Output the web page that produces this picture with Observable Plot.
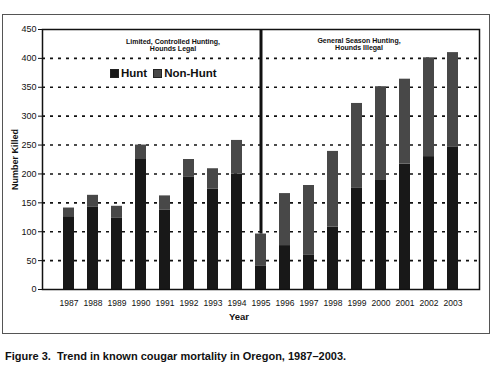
<!DOCTYPE html>
<html>
<head>
<meta charset="utf-8">
<script src="https://cdn.jsdelivr.net/npm/d3@7"></script>
<script src="https://cdn.jsdelivr.net/npm/@observablehq/plot@0.6"></script>
<style>
  body { margin: 0; background: white; }
  #wrap { position: relative; width: 500px; height: 374px; font-family: "Liberation Sans", Arial, sans-serif; }
  #frame { position: absolute; left: 2px; top: 14px; width: 488px; height: 320px; border: 1px solid #555; box-sizing: border-box; }
  #chart { position: absolute; left: 0; top: 0; }
  #legend { position: absolute; left: 110px; top: 67px; font-weight: bold; font-size: 11.5px; display: flex; align-items: center; color: #111; }
  #legend .sw { display: inline-block; width: 7px; height: 7px; border: 1px solid #222; margin-right: 2px; }
  #caption { position: absolute; left: 5px; top: 350px; font-weight: bold; font-size: 11px; color: #111; white-space: pre; }
  svg [aria-label="y-axis label"] text, svg [aria-label="y-axis label"] { font-weight: bold; }
</style>
</head>
<body>
<div id="wrap">
  <div id="frame"></div>
  <div id="chart"></div>
  <div id="legend"></div>
  <div id="caption"></div>
</div>
<script>
const years = ["1987","1988","1989","1990","1991","1992","1993","1994","1995","1996","1997","1998","1999","2000","2001","2002","2003"];
const series = ["Hunt", "Non-Hunt"];
const hunt    = [126, 143, 124, 225, 137, 195, 174, 200, 40, 76, 60, 108, 175, 190, 217, 230, 246];
const nonHunt = [15, 20, 20, 25, 25, 30, 35, 58, 56, 90, 120, 131, 147, 161, 147, 171, 164];
const yTicks = [0, 50, 100, 150, 200, 250, 300, 350, 400, 450];
const gridValues = [50, 100, 150, 200, 250, 300, 350, 400];
const colors = ["#181818", "#484848"];
const dividerYear = "1995";
const leftNote = "Limited, Controlled Hunting,\nHounds Legal";
const rightNote = "General Season Hunting,\nHounds Illegal";
const captionText = "Figure 3.  Trend in known cougar mortality in Oregon, 1987\u20132003.";

const rows = [];
years.forEach((yr, i) => {
  rows.push({year: yr, series: "Hunt", value: hunt[i]});
  rows.push({year: yr, series: "Non-Hunt", value: nonHunt[i]});
});
const di = years.indexOf(dividerYear);
const dividerTotal = hunt[di] + nonHunt[di];

const chart = Plot.plot({
  width: 500,
  height: 340,
  marginLeft: 42,
  marginRight: 21,
  marginTop: 29,
  marginBottom: 51,
  style: {fontFamily: "'Liberation Sans', Arial, sans-serif", fontSize: "9px", color: "#111", background: "transparent"},
  x: {domain: years, padding: 0.55, label: null},
  y: {domain: [0, 450], label: null},
  color: {domain: series, range: colors},
  marks: [
    Plot.ruleY(gridValues, {stroke: "#111", strokeWidth: 1.6, strokeDasharray: "3,5"}),
    Plot.barY(rows, {x: "year", y: "value", fill: "series", z: "series"}),
    Plot.ruleX([dividerYear], {x: d => d, y1: dividerTotal, y2: 450, stroke: "#111", strokeWidth: 3}),
    Plot.frame({stroke: "#111", strokeWidth: 1.5}),
    Plot.axisY({ticks: yTicks, tickSize: 4, tickPadding: 2, fontSize: 9, label: "Number Killed", labelAnchor: "center", labelArrow: "none", labelOffset: 31}),
    Plot.axisX({tickSize: 0, tickPadding: 10, fontSize: 8.5, label: null}),
    Plot.text(["Year"], {frameAnchor: "bottom", dy: 30, dx: -22, fontWeight: "bold", fontSize: 9.5, fill: "#111"}),
    Plot.text([leftNote], {x: () => "1992", y: () => 450, dx: -16, dy: 9, lineAnchor: "top", lineHeight: 1.05, fontWeight: "bold", fontSize: 7, fill: "#111"}),
    Plot.text([rightNote], {x: () => "1999", y: () => 450, dx: 2, dy: 8, lineAnchor: "top", lineHeight: 1.05, fontWeight: "bold", fontSize: 7, fill: "#111"})
  ]
});
document.getElementById("chart").append(chart);

const legend = document.getElementById("legend");
series.forEach((s, i) => {
  const sw = document.createElement("span");
  sw.className = "sw";
  sw.style.background = colors[i];
  const t = document.createElement("span");
  t.textContent = s;
  t.style.marginRight = "6px";
  legend.append(sw, t);
});
document.getElementById("caption").textContent = captionText;
</script>
</body>
</html>
